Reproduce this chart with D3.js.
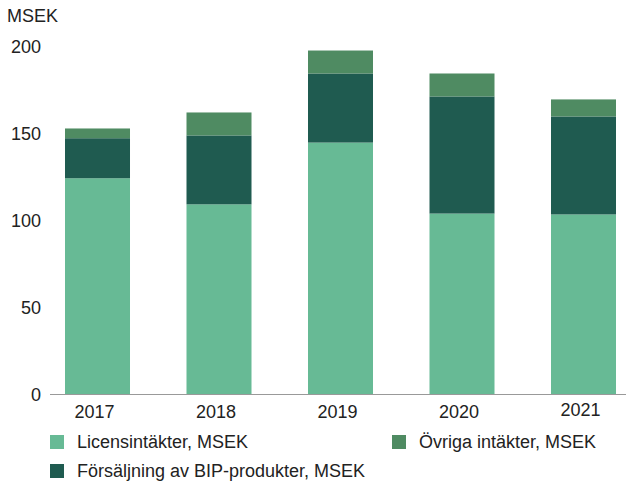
<!DOCTYPE html>
<html>
<head>
<meta charset="utf-8">
<script src="https://cdn.jsdelivr.net/npm/d3@7"></script>
<style>
  body { margin: 0; background: #fff; }
  text { font-family: "Liberation Sans", Arial, sans-serif; fill: #222; }
</style>
</head>
<body>
<div id="chart"></div>
<script>
const years = ['2017', '2018', '2019', '2020', '2021']
const licens = [124, 109, 144.5, 103.7, 103.2]
const forsaljning = [23, 39.6, 39.7, 67.3, 56.3]
const ovriga = [5.6, 13.2, 13.2, 13.2, 9.8]
const yTicks = [0, 50, 100, 150, 200]

const seriesNames = ['Licensintäkter, MSEK', 'Försäljning av BIP-produkter, MSEK', 'Övriga intäkter, MSEK']
const colors = ['#67ba95', '#1f5b50', '#4f8b62']

const width = 626, height = 482

const rows = years.map((y, i) => ({
  year: y,
  [seriesNames[0]]: licens[i],
  [seriesNames[1]]: forsaljning[i],
  [seriesNames[2]]: ovriga[i]
}))

const stack = d3.stack().keys(seriesNames)
const stacked = stack(rows)

const x = d3.scaleBand()
  .domain(years)
  .range([65, 616])
  .paddingInner(0.465)
  .paddingOuter(0)

const y = d3.scaleLinear()
  .domain([0, 200])
  .range([394, 46])

const svg = d3.select('#chart')
  .append('svg')
  .attr('width', width)
  .attr('height', height)

// y labels, no gridlines
svg.append('g')
  .selectAll('text')
  .data(yTicks)
  .join('text')
  .attr('x', 41)
  .attr('y', d => y(d) + 1)
  .attr('text-anchor', 'end')
  .attr('dominant-baseline', 'central')
  .attr('font-size', 18)
  .text(d => d)

svg.append('text')
  .attr('x', 7)
  .attr('y', 16)
  .attr('dominant-baseline', 'central')
  .attr('font-size', 18)
  .text('MSEK')

svg.append('g')
  .selectAll('g')
  .data(stacked)
  .join('g')
  .attr('fill', (d, i) => colors[i])
  .selectAll('rect')
  .data(d => d)
  .join('rect')
  .attr('x', d => x(d.data.year))
  .attr('width', x.bandwidth())
  .attr('y', d => y(d[1]))
  .attr('height', d => y(d[0]) - y(d[1]))

// baseline
svg.append('line')
  .attr('x1', 50)
  .attr('x2', width)
  .attr('y1', y(0) + 0.5)
  .attr('y2', y(0) + 0.5)
  .attr('stroke', '#999')
  .attr('stroke-width', 1.2)

svg.append('g')
  .selectAll('text')
  .data(years)
  .join('text')
  .attr('x', d => x(d) + x.bandwidth() / 2 - 3)
  .attr('y', (d, i) => i === years.length - 1 ? 410 : 412)
  .attr('text-anchor', 'middle')
  .attr('dominant-baseline', 'central')
  .attr('font-size', 18)
  .text(d => d)

// legend
const legendPos = [[50, 442], [50, 471], [392, 442]]
const legend = svg.append('g')
  .selectAll('g')
  .data(seriesNames)
  .join('g')
  .attr('transform', (d, i) => `translate(${legendPos[i][0]}, ${legendPos[i][1]})`)

legend.append('rect')
  .attr('x', 0)
  .attr('y', -7)
  .attr('width', 14)
  .attr('height', 14)
  .attr('fill', (d, i) => colors[i])

legend.append('text')
  .attr('x', 27)
  .attr('y', 0)
  .attr('dominant-baseline', 'central')
  .attr('font-size', 18)
  .text(d => d)
</script>
</body>
</html>
